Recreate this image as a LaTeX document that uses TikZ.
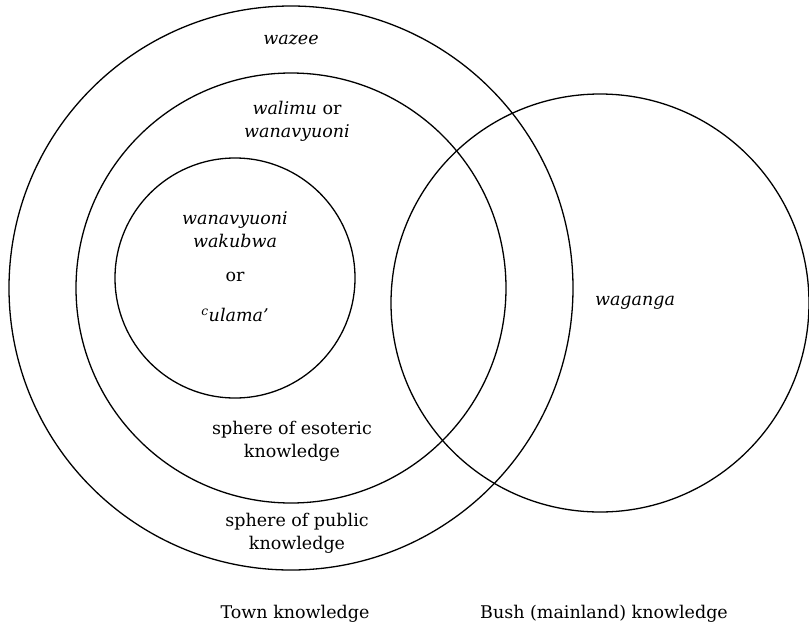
\documentclass[tikz,border=0pt]{standalone}
\usepackage{fontspec}
\setmainfont{DejaVu Serif}
\begin{document}
\begin{tikzpicture}[x=1pt,y=-1pt,
  ring/.style={draw=black,line width=1.3pt},
  lbl/.style={font=\fontsize{17.5}{23}\selectfont,align=center,inner sep=0pt}]
\useasboundingbox (0,0) rectangle (809,630);
\draw[ring] (291,288) circle[radius=282];
\draw[ring] (291,288) circle[radius=215];
\draw[ring] (235,278) circle[radius=120];
\draw[ring] (600,303) circle[radius=209];
\node[lbl] (wazee) at (291,40) {\textit{wazee}};
\node[lbl] (walimu) at (297,121) {\textit{walimu} or\\ \textit{wanavyuoni}};
\node[lbl] (wakubwa) at (235,230) {\textit{wanavyuoni}\\ \textit{wakubwa}};
\node[lbl] (or) at (235,277) {or};
\node[lbl] (ulama) at (235,315) {\textsuperscript{\textit{c}}\textit{ulama'}};
\node[lbl] (waganga) at (635,303) {\textit{waganga}};
\node[lbl] (esoteric) at (292,441) {sphere of esoteric\\ knowledge};
\node[lbl] (public) at (297,533) {sphere of public\\ knowledge};
\node[lbl] (town) at (295,614) {Town knowledge};
\node[lbl] (bush) at (604,614) {Bush (mainland) knowledge};
\end{tikzpicture}
\end{document}
